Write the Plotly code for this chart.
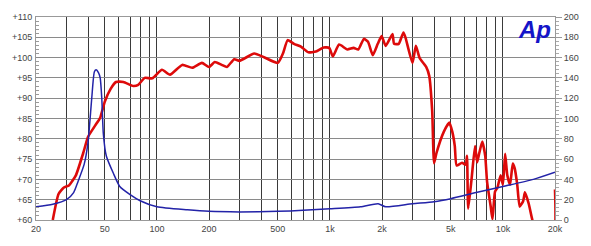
import plotly.graph_objects as go
import math

# SPL response (left axis, dB)
spl_freq = [25, 27, 29, 31, 34, 37.5, 40, 44, 47, 50, 54, 58, 64, 73, 78, 85, 94, 107, 119, 140,
            160, 182, 200, 216, 237, 254, 280, 300, 365, 416, 500, 535, 570, 620, 680, 750, 830,
            920, 990, 1040, 1130, 1260, 1370, 1460, 1570, 1660, 1770, 1890, 1990, 2100, 2300,
            2350, 2500, 2660, 2740, 3000, 3140, 3300, 3600, 3750, 3900, 4000, 4130, 4550, 4900,
            5100, 5270, 5400, 5800, 6100, 6200, 6300, 6600, 6900, 7100, 7300, 7600, 7900, 8100,
            8500, 8700, 9000, 9300, 9700, 10000, 10300, 10600, 11000, 11400, 11700, 12100,
            12500, 13100, 13400, 14100, 14800, 16000, 19600, 20000]
spl_db = [60, 66.4, 68, 68.5, 71, 76.5, 80.5, 83.3, 85.2, 89.2, 92.3, 94, 94, 93, 93.3, 95, 94.9,
          97, 95.8, 98.2, 97.5, 98.7, 97.7, 98.9, 98.2, 97.7, 99.6, 99.2, 101, 100.1, 98.7, 101,
          104.3, 103.4, 102.7, 101.3, 101.5, 102.5, 102.4, 100.3, 103.2, 102, 102.4, 102, 104.6,
          103.9, 100.6, 103.4, 105.3, 102.9, 105.8, 103.4, 103.4, 106.2, 104.8, 98.7, 102.9,
          99.9, 97.7, 95.5, 86.9, 74, 76.5, 81.7, 84, 81.7, 78.2, 73.4, 74.1, 73.6, 75.8, 62.8,
          70.4, 78.2, 74.2, 76.5, 79.3, 75.8, 69.4, 63.3, 60.2, 67, 68, 71, 68.7, 76.3, 71, 68.7,
          73.9, 72.7, 68.7, 63.3, 64.7, 66.8, 64, 60, 56, 56, 67.5]

# Impedance (right axis, ohm)
imp_freq = [20, 25, 30, 33, 35, 38, 40, 42, 43.5, 44.5, 46, 47, 48, 49, 51, 56, 61, 70, 80, 100,
            150, 200, 300, 500, 700, 1000, 1500, 1900, 2100, 3000, 4000, 5000, 7000, 10000,
            15000, 20000]
imp_ohm = [13, 15.5, 20, 27, 38, 55, 77, 120, 146, 148, 145, 140, 120, 85, 63, 46, 33, 25, 19,
           13, 10, 8.5, 8, 8.5, 9.5, 11, 13, 16, 13, 16, 18, 21, 27, 33, 40, 47]

grid_freqs = [20, 30, 40, 50, 60, 70, 80, 90, 100, 200, 300, 400, 500, 600, 700, 800, 900,
              1000, 2000, 3000, 4000, 5000, 6000, 7000, 8000, 9000, 10000, 20000]
label_map = {20: "20", 50: "50", 100: "100", 200: "200", 500: "500", 1000: "1k",
             2000: "2k", 5000: "5k", 10000: "10k", 20000: "20k"}
grid_text = [label_map.get(f, "") for f in grid_freqs]

left_vals = [60, 65, 70, 75, 80, 85, 90, 95, 100, 105, 110]
left_text = ["+%d" % v for v in left_vals]
right_vals = list(range(0, 201, 20))

fig = go.Figure()
fig.add_trace(go.Scatter(x=imp_freq, y=imp_ohm, yaxis="y2", mode="lines",
                         line=dict(color="#2323a8", width=1.5, shape="spline", smoothing=0.6),
                         showlegend=False))
fig.add_trace(go.Scatter(x=spl_freq, y=spl_db, mode="lines",
                         line=dict(color="#dd0a0a", width=2.6, shape="spline", smoothing=0.5),
                         showlegend=False))

fnt = dict(family="Liberation Sans, Arial, sans-serif", size=9, color="#444")
fig.update_layout(
    width=591, height=246,
    margin=dict(l=32, r=34, t=15, b=19),
    paper_bgcolor="white", plot_bgcolor="white",
    font=fnt,
    xaxis=dict(type="log", range=[math.log10(20), math.log10(20000)],
               tickmode="array", tickvals=grid_freqs, ticktext=grid_text,
               showgrid=True, gridcolor="#3a3a3a", gridwidth=1,
               ticks="", showline=True, linecolor="#999", mirror=True,
               zeroline=False, tickfont=fnt, ticklabelstandoff=0),
    yaxis=dict(range=[60, 110], tickmode="array", tickvals=left_vals, ticktext=left_text,
               showgrid=True, gridcolor="#8a8a8a", gridwidth=1,
               ticks="inside", ticklen=5, tickcolor="#888",
               minor=dict(dtick=1, ticks="inside", ticklen=3, tickcolor="#999", showgrid=False),
               showline=True, linecolor="#999", mirror=True, zeroline=False,
               tickfont=fnt, ticklabelstandoff=1),
    yaxis2=dict(range=[0, 200], overlaying="y", side="right", tickmode="array",
                tickvals=right_vals, showgrid=False, zeroline=False,
                ticks="outside", ticklen=6, tickcolor="#999",
                minor=dict(dtick=4, ticks="outside", ticklen=3, tickcolor="#aaa"),
                showline=False, tickfont=fnt),
)
fig.add_annotation(xref="paper", yref="paper", x=0.995, y=1.01, xanchor="right", yanchor="top",
                   text="<b><i>Ap</i></b>", showarrow=False,
                   font=dict(family="Liberation Sans, Arial, sans-serif", size=24, color="#1414c8"),
                   borderpad=0)
fig.write_html("out.html")
